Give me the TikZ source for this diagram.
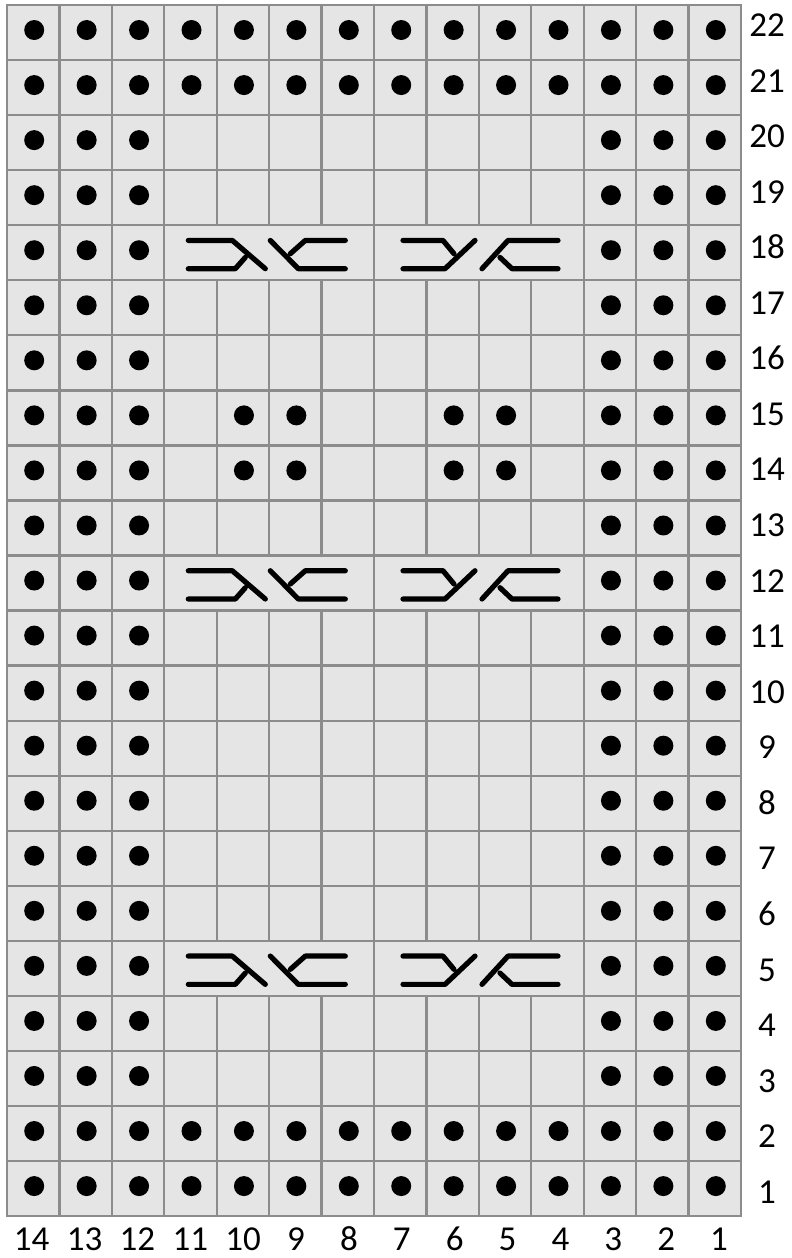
\documentclass[tikz,border=0pt]{standalone}
\usepackage{fontspec}
\setmainfont{Carlito}
\definecolor{cellbg}{RGB}{229,229,229}
\definecolor{gridln}{RGB}{140,140,140}
\newcommand\pdot[2]{\fill[purl] ({7+(14.5-#1)*52.43+1},{5+(22.5-#2)*55.05-2.5}) circle[radius=10pt];}
\newcommand\cableleft[2]{%
 \pgfmathsetmacro\cyT{5+(22.5-#2)*55.05-12.3}%
 \pgfmathsetmacro\cyB{\cyT+28.3}%
 \draw[strand] (#1+24,\cyT) -- (#1+68,\cyT) -- (#1+101,\cyB);
 \draw[strand] (#1+24,\cyB) -- (#1+71,\cyB) -- (#1+81,\cyT+0.6*28.3);
 \draw[strand] (#1+106,\cyT) -- (#1+134,\cyB) -- (#1+181,\cyB);
 \draw[strand] (#1+181,\cyT) -- (#1+141,\cyT) -- (#1+126,\cyT+0.47*28.3);
}
\newcommand\cableright[2]{%
 \pgfmathsetmacro\cyT{5+(22.5-#2)*55.05-12.3}%
 \pgfmathsetmacro\cyB{\cyT+28.3}%
 \draw[strand] (#1+29,\cyT) -- (#1+69,\cyT) -- (#1+80,\cyT+0.47*28.3);
 \draw[strand] (#1+29,\cyB) -- (#1+71,\cyB) -- (#1+101,\cyT);
 \draw[strand] (#1+108,\cyB) -- (#1+134,\cyT) -- (#1+184,\cyT);
 \draw[strand] (#1+184,\cyB) -- (#1+138,\cyB) -- (#1+126,\cyT+0.6*28.3);
}
\begin{document}
\begin{tikzpicture}[x=1pt,y=-1pt,
  gridline/.style={draw=gridln,line width=2.3pt},
  purl/.style={fill=black},
  strand/.style={draw=black,line width=5.2pt,line cap=round,line join=round},
  lbl/.style={font=\fontsize{35}{42}\selectfont,inner sep=0pt,anchor=base}]
\useasboundingbox (0,0) rectangle (792,1258);
\fill[white] (0,0) rectangle (792,1258);
\fill[cellbg] (7,5) rectangle (741,1216.1);
% horizontal grid lines
\foreach \j in {0,...,22} \draw[gridline] (5.85,5+\j*55.05) -- (742.15,5+\j*55.05);
% vertical grid lines (skipping inside merged cable cells)
\foreach \k in {0,...,14} {
  \foreach \i in {0,...,21} {
    \pgfmathtruncatemacro\rr{22-\i}
    \pgfmathtruncatemacro\skp{((\rr==5)||(\rr==12)||(\rr==18))&&(\k>=4)&&(\k<=10)&&(\k!=7)}
    \ifnum\skp=0
      \draw[gridline] (7+\k*52.43,5+\i*55.05) -- (7+\k*52.43,5+\i*55.05+55.05);
    \fi
  }
}
% purl dots
\foreach \r in {1,2,21,22} {\foreach \c in {1,...,14} {\pdot{\c}{\r}}}
\foreach \r in {3,...,20} {\foreach \c in {1,2,3,12,13,14} {\pdot{\c}{\r}}}
\foreach \r in {14,15} {\foreach \c in {5,6,9,10} {\pdot{\c}{\r}}}
% cables
\foreach \r in {5,12,18} {\cableleft{164.3}{\r}\cableright{374.0}{\r}}
% labels
\foreach \r in {1,...,22} \node[lbl] (r\r) at (767,{25+(22-\r)*55.56+11.5}) {\r};
\foreach \c in {1,...,14} \node[lbl] (c\c) at ({31.7+(14-\c)*52.87},1250) {\c};
\end{tikzpicture}
\end{document}
